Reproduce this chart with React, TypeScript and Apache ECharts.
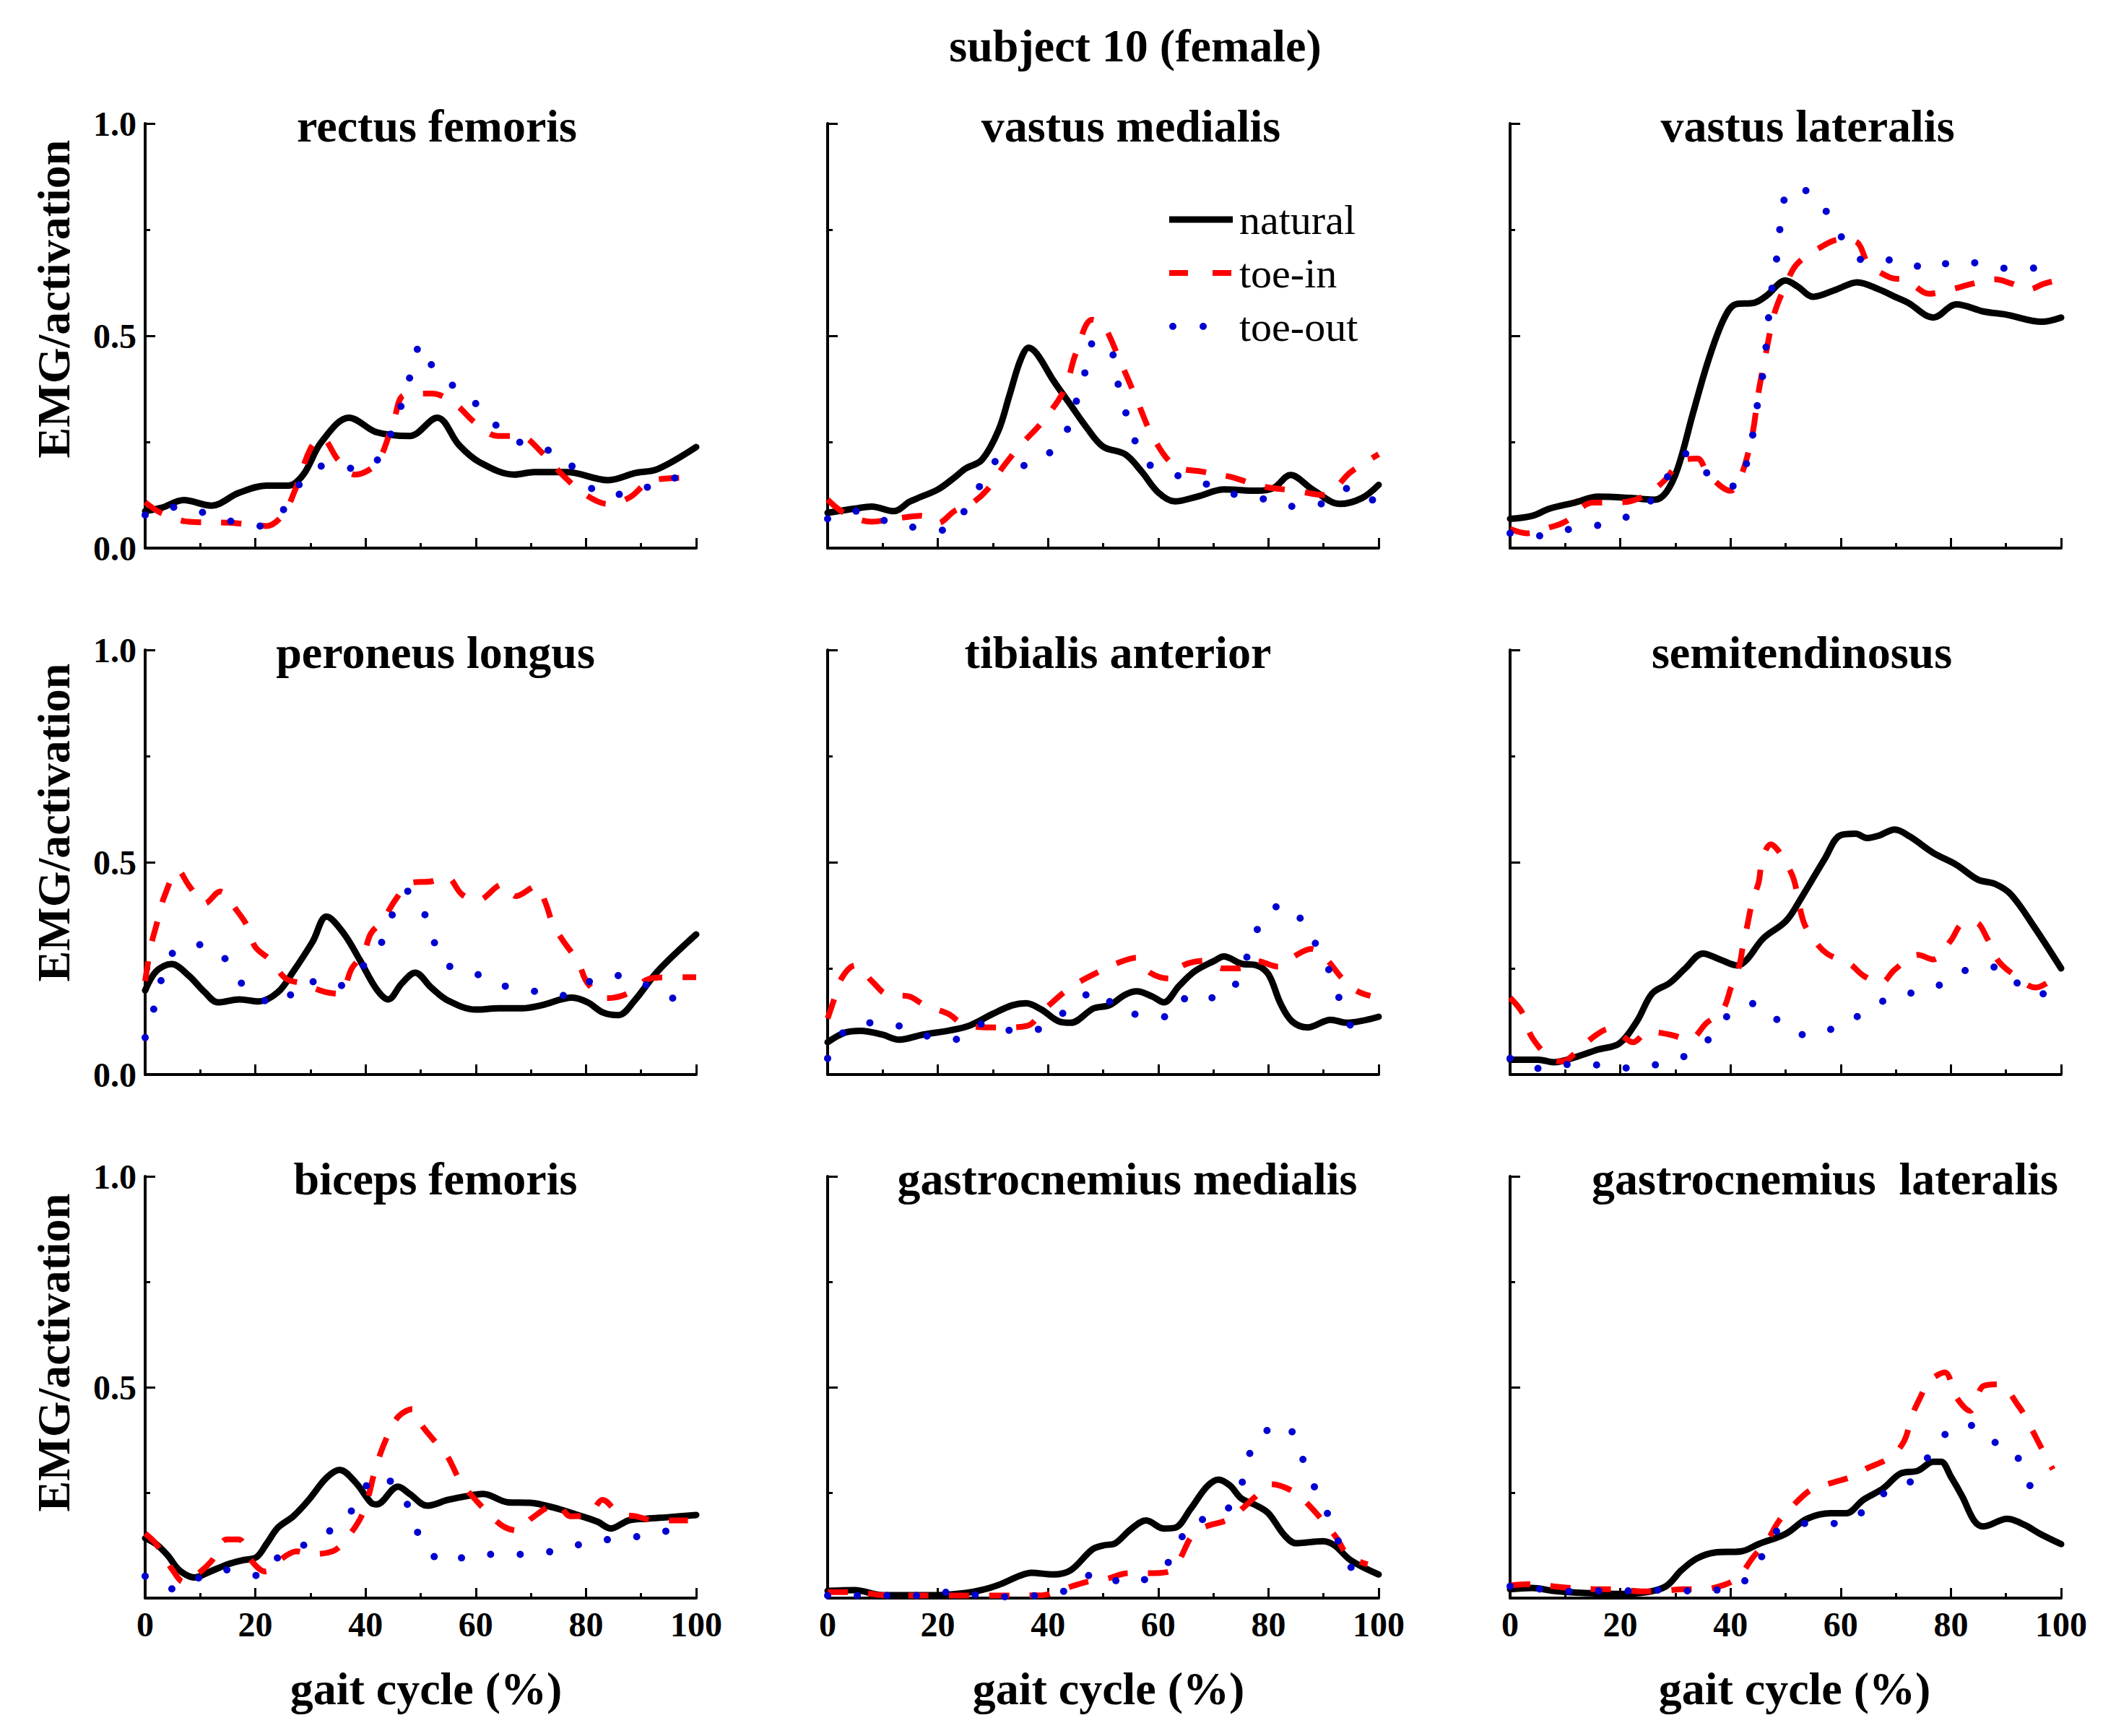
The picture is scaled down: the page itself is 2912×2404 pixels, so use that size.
import React, { useEffect, useRef } from 'react';
import * as echarts from 'echarts';

// ---------- text ----------
const mainTitle = 'subject 10 (female)';
const muscles = [
  'rectus femoris', 'vastus medialis', 'vastus lateralis',
  'peroneus longus', 'tibialis anterior', 'semitendinosus',
  'biceps femoris', 'gastrocnemius medialis', 'gastrocnemius  lateralis',
];
const conditions = ['natural', 'toe-in', 'toe-out'];
const yAxisTitle = 'EMG/activation';
const xAxisTitle = 'gait cycle (%)';
const xMin = 0, xMax = 100, xInterval = 20;
const yMin = 0, yMax = 1, yInterval = 0.5;

// ---------- data: [gait cycle %, activation] ----------
const rfNatural = [[0,0.087],[3,0.095],[7,0.113],[12,0.10],[17,0.13],[22,0.147],[26,0.147],[28.7,0.173],[32,0.25],[37,0.307],[42,0.273],[48,0.264],[53,0.307],[57,0.242],[60.6,0.203],[67,0.173],[70.6,0.179],[76.5,0.179],[84,0.16],[89,0.177],[93,0.186],[100,0.238]];
const rfToeIn = [[0,0.108],[3,0.082],[8,0.062],[15,0.06],[20,0.054],[22,0.052],[25,0.078],[27,0.13],[30,0.234],[32,0.26],[35,0.208],[38,0.173],[42,0.2],[45,0.294],[47,0.36],[52,0.364],[56,0.342],[60,0.294],[64,0.264],[68,0.264],[72,0.225],[76,0.169],[80,0.125],[84,0.104],[88,0.12],[92,0.16],[100,0.166]];
const rfToeOut = [[0,0.078],[6,0.097],[11,0.082],[16,0.062],[21,0.052],[26,0.104],[29,0.169],[33,0.195],[39,0.186],[43,0.22],[45,0.286],[47,0.355],[48.5,0.424],[50,0.48],[52,0.431],[56,0.381],[61,0.329],[65,0.273],[70,0.238],[75,0.223],[79,0.171],[83,0.126],[89,0.13],[94,0.163],[100,0.166]];

const vmNatural = [[0,0.083],[5,0.093],[8,0.098],[12,0.087],[15,0.11],[20,0.138],[23,0.166],[25,0.187],[28,0.208],[31,0.277],[33,0.36],[35,0.443],[36.5,0.472],[38,0.457],[41,0.394],[44,0.339],[47,0.284],[50,0.239],[54,0.221],[57,0.18],[60,0.131],[63,0.11],[67,0.121],[72,0.138],[78,0.135],[81,0.142],[84,0.172],[88,0.138],[93,0.104],[97,0.118],[100,0.149]];
const vmToeIn = [[0,0.114],[3,0.083],[8,0.062],[12,0.069],[17,0.076],[20,0.059],[23,0.087],[26,0.104],[29,0.138],[32,0.194],[35,0.242],[39,0.298],[43,0.374],[45,0.457],[48,0.538],[50,0.526],[53,0.443],[56,0.353],[59,0.263],[63,0.194],[68,0.18],[73,0.168],[79,0.145],[85,0.135],[90,0.125],[95,0.18],[100,0.221]];
const vmToeOut = [[0,0.069],[5,0.087],[10,0.066],[16,0.048],[21,0.042],[25,0.09],[28,0.154],[31,0.206],[36,0.194],[40,0.221],[43.7,0.284],[45.3,0.353],[46.9,0.422],[48.5,0.488],[51.3,0.471],[52.5,0.398],[53.9,0.329],[55.5,0.263],[57.6,0.204],[63,0.173],[68,0.154],[74,0.126],[79,0.116],[84.5,0.098],[89,0.102],[95,0.142],[99,0.112]];

const vlNatural = [[0,0.069],[4,0.076],[7.2,0.093],[11.7,0.107],[16,0.121],[21.9,0.118],[26.2,0.114],[28.3,0.131],[30.4,0.187],[33.2,0.318],[36,0.443],[38.8,0.54],[40.9,0.574],[44.4,0.578],[46.6,0.595],[50,0.63],[52.2,0.616],[55,0.592],[59.2,0.609],[63,0.626],[67,0.609],[69.8,0.592],[72.2,0.578],[76.8,0.543],[81,0.574],[86,0.557],[90,0.55],[96.5,0.533],[100,0.543]];
const vlToeIn = [[0,0.045],[3,0.035],[7,0.048],[10,0.062],[15,0.107],[18,0.107],[22,0.111],[25,0.128],[28,0.159],[31,0.204],[34,0.211],[36,0.173],[40,0.135],[42,0.173],[44,0.27],[45,0.36],[46.5,0.464],[48,0.554],[50,0.619],[52,0.668],[56,0.706],[60,0.727],[63,0.72],[65,0.671],[69,0.637],[72,0.631],[76,0.599],[80,0.609],[84,0.623],[88,0.633],[91,0.623],[94,0.609],[97,0.623],[100,0.633]];
const vlToeOut = [[0,0.035],[5.6,0.029],[11,0.045],[16.5,0.055],[21.6,0.076],[25.5,0.111],[28.8,0.172],[32.2,0.223],[36,0.174],[41.1,0.145],[43.2,0.215],[44.3,0.287],[45.1,0.356],[46.1,0.427],[46.6,0.498],[47.1,0.567],[47.8,0.638],[48.7,0.709],[49.2,0.776],[50.8,0.846],[54.5,0.837],[57.9,0.783],[60.8,0.721],[65,0.673],[70.5,0.68],[75.9,0.657],[80.8,0.675],[86.1,0.669],[91.3,0.657],[96.7,0.661]];

const plNatural = [[0,0.198],[2,0.243],[4.8,0.26],[7.9,0.233],[10.8,0.194],[13.2,0.17],[17.1,0.177],[20.6,0.172],[24.1,0.194],[26.9,0.243],[30.4,0.313],[32.9,0.372],[36,0.333],[38.9,0.271],[42,0.201],[44.1,0.177],[46.6,0.215],[49,0.24],[51.9,0.205],[55,0.174],[60,0.153],[64.2,0.156],[68.4,0.156],[71.9,0.163],[77.5,0.181],[80.3,0.17],[83.1,0.146],[85.9,0.14],[88.8,0.174],[93,0.243],[100,0.33]];
const plToeIn = [[0,0.22],[1,0.3],[2,0.35],[3.5,0.42],[6,0.48],[8,0.444],[10.8,0.403],[13.6,0.431],[16.7,0.385],[18.5,0.35],[20,0.3],[22.7,0.27],[25.5,0.226],[28.3,0.215],[32.5,0.195],[35.3,0.19],[37.5,0.25],[39.6,0.285],[41,0.333],[43,0.361],[45.5,0.413],[48,0.451],[52,0.455],[54.7,0.465],[57.5,0.424],[60.3,0.41],[64.9,0.448],[67.3,0.42],[71,0.444],[72.6,0.406],[74,0.354],[75.8,0.316],[78.6,0.264],[80.3,0.215],[83.8,0.18],[87.4,0.19],[91.6,0.226],[94.7,0.229],[100,0.229]];
const plToeOut = [[0,0.087],[1.6,0.156],[3,0.226],[5,0.286],[9.3,0.306],[13.6,0.286],[16.5,0.229],[20.6,0.181],[24.5,0.167],[29,0.222],[34.3,0.205],[39.2,0.251],[42.7,0.306],[44.7,0.372],[47.5,0.432],[50.7,0.378],[52.4,0.314],[54.2,0.262],[59.1,0.243],[64.2,0.212],[69.4,0.2],[74.9,0.184],[80.2,0.217],[85.5,0.233],[90.7,0.212],[96.3,0.176]];

const taNatural = [[0,0.076],[3.2,0.099],[6,0.103],[9.9,0.094],[13,0.082],[17.3,0.094],[22.2,0.104],[25.7,0.115],[30,0.143],[33.5,0.163],[36,0.168],[38.8,0.153],[42,0.125],[44.1,0.122],[48.3,0.156],[51.1,0.163],[54,0.188],[56.1,0.196],[58.9,0.184],[61,0.17],[63.8,0.209],[66.6,0.243],[70.2,0.268],[71.9,0.278],[75.1,0.261],[77.9,0.257],[80,0.236],[82.2,0.167],[84.3,0.125],[87.1,0.111],[91.3,0.129],[94.1,0.122],[100,0.136]];
const taToeIn = [[0,0.132],[1,0.17],[2.5,0.226],[5,0.257],[8.1,0.219],[10.9,0.188],[14.8,0.184],[17.6,0.163],[21.9,0.143],[24.7,0.118],[29.3,0.111],[32.4,0.111],[36.3,0.115],[39.1,0.15],[43,0.195],[45.8,0.219],[50,0.247],[52.9,0.264],[56,0.275],[58.5,0.24],[62,0.226],[64.5,0.257],[68.8,0.268],[71.6,0.25],[74.8,0.25],[77.6,0.268],[81.8,0.254],[84.6,0.278],[87.8,0.296],[90.3,0.275],[93.4,0.226],[95.9,0.198],[98.5,0.185]];
const taToeOut = [[0,0.038],[3,0.101],[8.3,0.122],[13.4,0.113],[18.5,0.089],[23.6,0.083],[28.8,0.122],[34.3,0.101],[39.7,0.113],[43.6,0.154],[49,0.198],[52.7,0.152],[58,0.139],[62.3,0.136],[65.9,0.189],[71,0.179],[74.6,0.224],[76.5,0.292],[78.6,0.355],[82.5,0.4],[86.4,0.358],[88.9,0.299],[91.5,0.231],[93.2,0.166],[95.2,0.106]];

const stNatural = [[0,0.035],[5.1,0.035],[7.9,0.029],[12.1,0.042],[16,0.059],[19.8,0.073],[23,0.125],[25.8,0.191],[29,0.216],[31.8,0.25],[35,0.285],[38.1,0.271],[41.3,0.257],[43,0.271],[45.9,0.32],[50.1,0.362],[52.9,0.417],[57.1,0.508],[59.9,0.563],[62.7,0.567],[64.8,0.557],[67,0.563],[69.8,0.577],[72.6,0.56],[76.8,0.522],[81,0.494],[84.9,0.459],[88,0.449],[90.9,0.424],[95.1,0.348],[100,0.25]];
const stToeIn = [[0,0.181],[2.2,0.146],[3.7,0.094],[5.8,0.056],[7.5,0.035],[9.6,0.031],[11.7,0.049],[15.3,0.09],[18.1,0.108],[20,0.095],[22.3,0.076],[25.1,0.101],[29,0.094],[32.5,0.083],[35.7,0.122],[38.5,0.15],[40.2,0.209],[41.6,0.257],[42.3,0.306],[43,0.348],[44,0.41],[45.1,0.452],[45.8,0.508],[47.3,0.542],[48.5,0.53],[50,0.5],[51.5,0.459],[53.2,0.362],[55,0.32],[57.5,0.285],[61.7,0.26],[64.1,0.233],[67.3,0.216],[69.8,0.247],[74,0.282],[76.8,0.271],[80,0.316],[82.1,0.355],[84.5,0.358],[86.6,0.32],[88.4,0.271],[90.9,0.24],[95.4,0.205],[98.6,0.226]];
const stToeOut = [[0,0.038],[5.6,0.014],[11,0.024],[16.5,0.022],[22.1,0.015],[27.4,0.026],[32.3,0.047],[36.2,0.085],[39.9,0.143],[44.3,0.167],[48.5,0.129],[54.1,0.092],[59.1,0.111],[63.9,0.143],[69.3,0.183],[74.5,0.196],[79.5,0.219],[84.7,0.254],[89.3,0.25],[93.9,0.195],[99.3,0.189]];

const bfNatural = [[0,0.142],[2,0.128],[4.1,0.101],[6.2,0.066],[9,0.049],[11.8,0.063],[15,0.08],[17.8,0.09],[20.2,0.097],[22,0.128],[24.1,0.167],[26.9,0.194],[29.7,0.233],[32.9,0.285],[35.3,0.304],[38.2,0.274],[41,0.226],[42,0.222],[45.9,0.264],[48,0.247],[51.2,0.219],[55,0.233],[58.9,0.243],[61.3,0.247],[65.9,0.227],[69.8,0.226],[74,0.215],[78.2,0.198],[82.1,0.181],[84.5,0.165],[87.7,0.184],[90.9,0.188],[95.1,0.192],[100,0.197]];
const bfToeIn = [[0,0.153],[2,0.128],[5,0.066],[7,0.038],[9,0.052],[12,0.087],[14.8,0.139],[17,0.139],[19.2,0.09],[21.8,0.063],[25.5,0.1],[27.5,0.111],[30,0.104],[34,0.111],[36,0.132],[39.5,0.201],[42,0.316],[44,0.385],[46,0.431],[48.5,0.448],[50,0.413],[53,0.365],[55,0.333],[57,0.281],[59,0.247],[62,0.205],[65,0.17],[67.7,0.16],[70,0.188],[74.7,0.222],[77.2,0.194],[80.5,0.198],[83,0.233],[86,0.201],[89,0.194],[92,0.185],[95,0.184],[98.5,0.184]];
const bfToeOut = [[0,0.052],[5.5,0.021],[9.6,0.047],[15.2,0.067],[20.8,0.053],[24.7,0.103],[29.9,0.132],[35.3,0.177],[39.1,0.236],[41.5,0.288],[45.7,0.266],[48.3,0.199],[50.3,0.134],[54.5,0.085],[60.2,0.104],[65.6,0.103],[70.8,0.106],[76.1,0.116],[81.6,0.137],[87,0.14],[92.3,0.155],[97.5,0.162]];

const gmNatural = [[0,0.017],[4.9,0.019],[9.9,0.007],[19.7,0.007],[25,0.012],[27.9,0.019],[31,0.031],[34.9,0.053],[37,0.06],[40.9,0.056],[44.1,0.066],[48,0.115],[50.1,0.125],[52.2,0.13],[55,0.163],[57.8,0.184],[61,0.165],[63.1,0.167],[65.9,0.212],[68.8,0.264],[70.9,0.281],[73,0.267],[75.1,0.236],[77.9,0.219],[80,0.201],[82.9,0.149],[85,0.13],[89.9,0.135],[92,0.125],[94.9,0.09],[100,0.056]];
const gmToeIn = [[0,0.014],[5,0.014],[10,0.007],[20,0.006],[30,0.006],[39,0.007],[42.7,0.021],[46.9,0.038],[50.4,0.045],[54.7,0.059],[58.2,0.059],[61.7,0.062],[63.5,0.083],[66,0.146],[67.7,0.165],[73,0.188],[75.5,0.215],[77.6,0.24],[80.4,0.27],[85,0.25],[87,0.225],[90.3,0.177],[92.4,0.142],[94.5,0.1],[98,0.08]];
const gmToeOut = [[0,0.006],[5,0.006],[10,0.006],[16,0.006],[22,0.014],[27.5,0.007],[33,0.003],[38.5,0.007],[43.5,0.019],[49,0.06],[54,0.035],[59.5,0.057],[63.5,0.115],[65.5,0.177],[71,0.194],[74.5,0.247],[76,0.315],[78,0.38],[83,0.411],[85.5,0.353],[87.5,0.286],[90,0.222],[92,0.158],[94,0.094],[97,0.035]];

const glNatural = [[0,0.021],[4,0.024],[7.9,0.017],[12.1,0.013],[19.8,0.01],[24.8,0.014],[28.3,0.028],[31.1,0.066],[33.9,0.094],[37.1,0.108],[42,0.111],[45.1,0.128],[50.1,0.153],[53.9,0.188],[58.2,0.201],[61,0.201],[64.1,0.233],[67.7,0.26],[70.8,0.295],[74,0.302],[76.8,0.323],[78.2,0.323],[80,0.288],[82.1,0.24],[84.2,0.184],[85.9,0.17],[90.2,0.188],[93.3,0.174],[96.1,0.153],[100,0.128]];
const glToeIn = [[0,0.03],[3.3,0.033],[7.9,0.028],[11,0.024],[16,0.021],[18.8,0.021],[23.7,0.016],[26.9,0.016],[31.4,0.021],[34.6,0.021],[38.8,0.031],[41.6,0.052],[44.1,0.097],[46.6,0.135],[48.7,0.181],[50.8,0.212],[54.6,0.257],[57.8,0.271],[62,0.288],[64.5,0.306],[69,0.334],[71.5,0.372],[72.9,0.431],[74.3,0.472],[76.1,0.514],[78.9,0.535],[81,0.476],[83.5,0.444],[85.9,0.503],[88.7,0.507],[92.3,0.455],[94,0.417],[96.5,0.354],[98.5,0.305]];
const glToeOut = [[0,0.028],[5.6,0.021],[11,0.016],[16.7,0.017],[22.3,0.017],[27.6,0.019],[33.2,0.017],[38.6,0.021],[42.7,0.042],[45.9,0.103],[48.5,0.16],[53.7,0.177],[59.1,0.177],[62.9,0.194],[67.3,0.244],[71.7,0.264],[75.4,0.326],[78.4,0.382],[82.9,0.413],[86.4,0.377],[91.2,0.352],[93.5,0.287],[96.1,0.228]];

const panelSeries = [
  [rfNatural, rfToeIn, rfToeOut],
  [vmNatural, vmToeIn, vmToeOut],
  [vlNatural, vlToeIn, vlToeOut],
  [plNatural, plToeIn, plToeOut],
  [taNatural, taToeIn, taToeOut],
  [stNatural, stToeIn, stToeOut],
  [bfNatural, bfToeIn, bfToeOut],
  [gmNatural, gmToeIn, gmToeOut],
  [glNatural, glToeIn, glToeOut],
];

// ---------- layout & style ----------
const W = 2912, H = 2404;
const FONT = '"Liberation Serif", "Times New Roman", serif';
const colLeft = [201, 1146, 2091];
const colWidth = 763;
const rowTop = [171, 900, 1629];
const rowHeight = [588, 588, 584];
const titleCenterX = [[605, 1566, 2503], [603, 1548, 2495], [603, 1561, 2527]];
const yNameY = [414, 1139, 1873];
const xNameCenterX = [590, 1535, 2485];
const xNameY = 2338;
const legendX = 1619, legendLineLen = 88, legendTextX = 1716;
const legendRowY = [304, 378, 452];
const lineStyles = [
  { color: '#000000', width: 9, type: 'solid', cap: 'round' },
  { color: '#ff0000', width: 8, type: [28, 28], cap: 'butt' },
  { color: '#0000d0', width: 10, type: [0, 41], cap: 'round' },
];
const legendDash: any[] = [null, [26, 34], [0, 42]];
const legendDashOffset = [0, 0, -5];

function buildOption() {
  const grid: any[] = [];
  const xAxis: any[] = [];
  const yAxis: any[] = [];
  const series: any[] = [];
  const graphic: any[] = [];

  const axisLine = { show: true, lineStyle: { color: '#000', width: 4 } };
  const axisTick = { show: true, inside: true, length: 14, lineStyle: { color: '#000', width: 3 } };
  const minorTick = { show: true, splitNumber: 2, length: 7, lineStyle: { color: '#000', width: 3 } };
  const labelStyle = { color: '#000', fontFamily: FONT, fontWeight: 'bold', fontSize: 48 };
  const bigText = { fill: '#000', fontFamily: FONT, fontWeight: 'bold', fontSize: 64, align: 'center', verticalAlign: 'middle' };

  for (let r = 0; r < 3; r++) {
    for (let c = 0; c < 3; c++) {
      const i = r * 3 + c;
      grid.push({
        left: colLeft[c], top: rowTop[r], width: colWidth, height: rowHeight[r],
        containLabel: false, outerBoundsMode: 'none', show: false,
      });
      xAxis.push({
        type: 'value', gridIndex: i, min: xMin, max: xMax, interval: xInterval,
        axisLine, axisTick, minorTick,
        splitLine: { show: false }, minorSplitLine: { show: false },
        axisLabel: { show: r === 2, margin: 12, ...labelStyle },
      });
      yAxis.push({
        type: 'value', gridIndex: i, min: yMin, max: yMax, interval: yInterval,
        axisLine, axisTick, minorTick,
        splitLine: { show: false }, minorSplitLine: { show: false },
        axisLabel: {
          show: c === 0, margin: 12, ...labelStyle,
          showMinLabel: r !== 2,
          formatter: (v: number) => v.toFixed(1),
        },
      });
      panelSeries[i].forEach((d, k) => {
        series.push({
          type: 'line', name: conditions[k], xAxisIndex: i, yAxisIndex: i,
          data: d, showSymbol: false, symbol: 'none', smooth: 0.35,
          lineStyle: { ...lineStyles[k] }, itemStyle: { color: lineStyles[k].color },
          z: 2 + k, silent: true,
        });
      });
      graphic.push({
        type: 'text', x: titleCenterX[r][c], y: rowTop[r] + 3,
        style: { text: muscles[i], ...bigText },
      });
    }
    graphic.push({
      type: 'text', x: 74, y: yNameY[r], rotation: Math.PI / 2,
      style: { text: yAxisTitle, ...bigText },
    });
  }
  for (let c = 0; c < 3; c++) {
    graphic.push({
      type: 'text', x: xNameCenterX[c], y: xNameY,
      style: { text: xAxisTitle, ...bigText },
    });
  }
  graphic.push({
    type: 'text', x: 1572, y: 63,
    style: { text: mainTitle, ...bigText },
  });

  // legend (drawn manually so the samples match the line styles)
  conditions.forEach((name, k) => {
    const ls = lineStyles[k];
    graphic.push({
      type: 'line',
      shape: { x1: legendX, y1: legendRowY[k], x2: legendX + legendLineLen, y2: legendRowY[k] },
      style: {
        stroke: ls.color, lineWidth: ls.width,
        lineDash: legendDash[k], lineDashOffset: legendDashOffset[k],
        lineCap: k === 2 ? 'round' : 'butt',
      },
    });
    graphic.push({
      type: 'text', x: legendTextX, y: legendRowY[k],
      style: {
        text: name, fill: '#000', fontFamily: FONT, fontWeight: 'normal', fontSize: 58,
        align: 'left', verticalAlign: 'middle',
      },
    });
  });

  return {
    animation: false,
    backgroundColor: '#ffffff',
    grid, xAxis, yAxis, series, graphic,
  };
}

export default function App() {
  const ref = useRef<HTMLDivElement>(null);
  useEffect(() => {
    if (!ref.current) return;
    const chart = echarts.init(ref.current, null, { renderer: 'svg', width: W, height: H });
    chart.setOption(buildOption() as any);
    return () => chart.dispose();
  }, []);
  return (
    <div
      ref={ref}
      style={{ position: 'absolute', left: 0, top: 0, width: W, height: H, background: '#fff' }}
    />
  );
}
